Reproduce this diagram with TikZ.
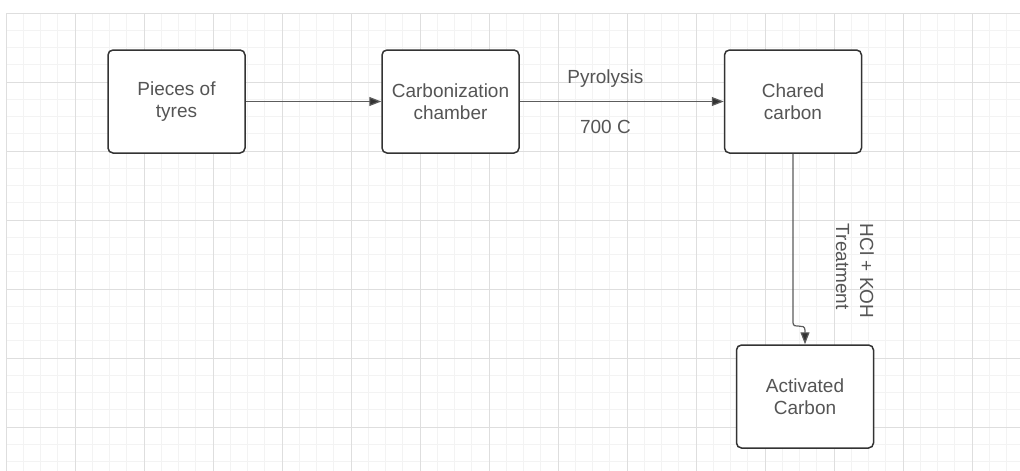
\documentclass[tikz,border=0pt]{standalone}
\usepackage{fontspec}
\setmainfont{Liberation Sans}
\usepackage{xcolor}
\definecolor{gridminor}{HTML}{F3F3F3}
\definecolor{gridmajor}{HTML}{DEDEDE}
\definecolor{frame}{HTML}{333333}
\definecolor{ink}{HTML}{555555}
\definecolor{wire}{HTML}{5C5C5C}
\usetikzlibrary{arrows.meta, positioning, calc}
\tikzset{
  stage/.style={
    rectangle, rounded corners=5pt, draw=frame, line width=1.5pt,
    fill=white, text=ink, align=center, inner sep=0pt,
    font=\fontsize{19}{22.5}\selectfont,
    minimum width=137pt, minimum height=103pt
  },
  arr/.style={-{Triangle[length=12pt, width=9pt, fill=frame]}, line width=1.2pt, draw=wire},
  note/.style={text=ink, inner sep=0pt, font=\fontsize{19}{24}\selectfont}
}

\begin{document}
\begin{tikzpicture}[x=1pt, y=-1pt]

  \useasboundingbox (0,0) rectangle (1020,471);

  %% Background grid
  \begin{scope}
    \clip (6,13) rectangle (1020,471);
    \foreach \gx in {6,23.25,...,1022}
      \draw[gridminor, line width=1pt] (\gx,13) -- (\gx,471);
    \foreach \gy in {13,30.25,...,473}
      \draw[gridminor, line width=1pt] (6,\gy) -- (1020,\gy);
    \foreach \gx in {6,75,...,1022}
      \draw[gridmajor, line width=1pt] (\gx,13) -- (\gx,471);
    \foreach \gy in {13,82,...,473}
      \draw[gridmajor, line width=1pt] (6,\gy) -- (1020,\gy);
  \end{scope}

  %% Process stages
  \node[stage] (tyres) at (176.5,101.5) {Pieces of\\tyres};
  \node[stage, right=135.5pt of tyres] (chamber) {Carbonization\\chamber};
  \node[stage, right=204pt of chamber] (chared) {Chared\\carbon};
  \node[stage, below=190.5pt of chared, xshift=12pt] (active) {Activated\\Carbon};

  %% Connectors
  \draw[arr] (tyres) -- (chamber);
  \draw[arr] (chamber) --
    node[note, pos=0.42, anchor=base, yshift=18pt] (pyro) {Pyrolysis}
    node[note, pos=0.42, anchor=base, yshift=-32pt] (temp) {700 C}
    (chared);
  \coordinate (hop) at ($(chared.south)+(0,169)$);
  \draw[arr] (chared.south) -- (hop)
    .. controls +(0,7) and +(0,-8) .. ($(active.north)+(0,-14)$)
    -- (active.north);
  \node[note, rotate=-90, anchor=north west, align=left] (treat)
    at ($(chared.south)+(81,70)$) {HCl + KOH\\Treatment};

\end{tikzpicture}
\end{document}
